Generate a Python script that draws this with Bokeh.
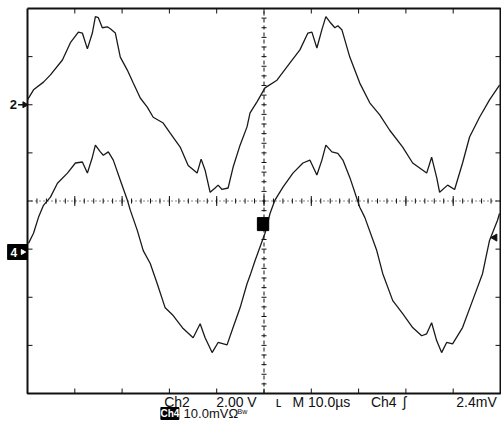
import numpy as np
from bokeh.plotting import figure
from bokeh.models import Range1d
from bokeh.embed import file_html
from bokeh.resources import INLINE
from bokeh.core.properties import value

ch2_time_us = [0.00, 1.27, 3.38, 4.85, 7.38, 9.07, 10.76, 11.60, 12.66, 13.71,
               14.35, 14.98, 15.82, 16.88, 17.51, 18.57, 19.62, 21.10, 22.36, 23.84,
               25.32, 26.58, 28.69, 30.17, 32.28, 33.97, 35.86, 36.71, 37.55, 38.61,
               39.66, 40.30, 41.14, 42.41, 43.46, 44.94, 46.41, 47.05, 48.52, 50.21,
               52.74, 55.49, 57.59, 59.28, 60.13, 61.18, 62.24, 63.08, 63.92, 64.98,
               65.61, 66.46, 68.14, 70.25, 72.36, 74.47, 76.58, 79.32, 81.43, 84.39,
               85.44, 86.50, 87.13, 88.82, 90.30, 91.98, 93.46, 95.57, 97.68, 99.79]
ch2_volts = [0.20, 0.62, 0.94, 1.24, 1.86, 2.58, 3.02, 2.98, 2.32, 2.98,
             3.66, 3.62, 3.20, 3.24, 3.16, 2.98, 1.98, 1.44, 0.90, 0.28,
             -0.10, -0.52, -0.76, -1.18, -1.76, -2.52, -2.84, -2.26, -2.72, -3.64,
             -3.46, -3.34, -3.52, -3.46, -2.60, -1.68, -0.92, -0.34, 0.12, 0.70,
             1.02, 1.74, 2.28, 2.98, 3.02, 2.36, 3.12, 3.66, 3.44, 3.20,
             3.28, 3.12, 1.98, 0.90, 0.08, -0.42, -1.06, -1.76, -2.42, -2.84,
             -2.18, -3.02, -3.64, -3.34, -3.52, -2.42, -1.34, -0.52, 0.20, 0.82]

ch4_time_us = [0.21, 1.27, 2.32, 3.38, 4.85, 6.33, 8.44, 10.13, 11.60, 12.66,
               13.71, 14.35, 15.40, 16.03, 17.09, 18.14, 19.62, 21.10, 21.73, 23.21,
               24.47, 25.95, 27.43, 29.11, 30.80, 32.91, 35.02, 36.50, 37.55, 39.03,
               40.30, 42.19, 43.46, 44.94, 46.41, 47.05, 48.10, 50.21, 51.27, 52.32,
               54.01, 56.12, 58.23, 59.70, 61.18, 62.24, 63.08, 64.35, 65.61, 66.68,
               68.14, 70.25, 71.31, 73.84, 75.11, 77.22, 79.32, 81.43, 83.33, 84.39,
               85.44, 86.50, 87.55, 88.61, 89.87, 91.98, 94.09, 96.20, 97.68, 99.37,
               99.79]
ch4_mv = [1.2, 3.3, 6.6, 9.1, 10.8, 13.7, 15.8, 17.9, 18.1, 15.8,
          19.1, 21.6, 20.2, 19.5, 20.2, 18.5, 14.3, 10.2, 8.1, 3.9,
          -0.3, -3.0, -7.2, -12.2, -13.8, -16.5, -18.4, -15.5, -18.4, -21.5,
          -19.4, -19.9, -16.3, -12.2, -7.2, -5.5, -2.4, 3.3, 7.4, 10.2,
          12.9, 15.8, 17.9, 18.5, 15.4, 18.5, 21.6, 20.2, 19.9, 18.5,
          14.9, 8.7, 6.6, -0.3, -5.1, -10.7, -13.4, -16.3, -18.0, -17.6,
          -15.3, -19.0, -21.5, -19.4, -19.7, -16.3, -10.7, -5.1, 1.8, 6.0,
          7.4]

ch2_scale_v = 2.00      # V/div
ch2_offset_div = 2.0    # ground marker position
ch4_scale_mv = 10.0     # mV/div
ch4_offset_div = -1.0
trig_level_mv = 2.4
time_per_div_us = 10.0
n_hdiv, n_vdiv = 10, 8

label_row1 = ["Ch2", "2.00 V", "\u029f", "M 10.0\u00b5s", "Ch4", "\u0283", "2.4mV"]
label_row1_t = [28.9, 39.9, 52.5, 56.0, 72.6, 79.4, 99.2]
label_row2 = ["Ch4", "10.0mV\u03a9", "Bw"]

# ---------------- geometry ----------------
W, H = 501, 422
left_px, right_px, top_px, bottom_px = 27, 500, 8, 393
t_span = n_hdiv * time_per_div_us
sx = (right_px - left_px) / t_span          # px per µs
sy = (bottom_px - top_px) / n_vdiv          # px per div
half_v = n_vdiv / 2

p = figure(width=W, height=H, output_backend="svg", toolbar_location=None,
           x_range=Range1d(-left_px / sx, (W - left_px) / sx),
           y_range=Range1d(half_v - (H - top_px) / sy, half_v + top_px / sy),
           x_axis_location=None, y_axis_location=None, min_border=0)
p.outline_line_color = None
p.xgrid.visible = False
p.ygrid.visible = False
p.background_fill_color = "white"
p.border_fill_color = "white"

ink = "#111111"
font = value("Liberation Sans")

# frame
p.line([0, t_span, t_span, 0, 0], [half_v, half_v, -half_v, -half_v, half_v],
       line_color=ink, line_width=2)

# ticks on edges (major)
tx = np.arange(1, n_hdiv) * time_per_div_us
tl = 5 / sy
p.segment(tx, [half_v] * len(tx), tx, [half_v - tl] * len(tx), line_color=ink, line_width=1)
p.segment(tx, [-half_v] * len(tx), tx, [-half_v + tl] * len(tx), line_color=ink, line_width=1)
vy = np.arange(-half_v + 1, half_v)
tlx = 5 / sx
p.segment([0] * len(vy), vy, [tlx] * len(vy), vy, line_color=ink, line_width=1)
p.segment([t_span] * len(vy), vy, [t_span - tlx] * len(vy), vy, line_color=ink, line_width=1)

# center cross
tc = t_span / 2
p.line([tc, tc], [-half_v, half_v], line_color=ink, line_dash="4 3", line_width=1)
p.line([0, t_span], [0, 0], line_color=ink, line_dash="1 3", line_width=1)
minor_t = np.arange(0, t_span + 1e-9, time_per_div_us / 5)
p.segment(minor_t, [-2.5 / sy] * len(minor_t), minor_t, [2.5 / sy] * len(minor_t),
          line_color=ink, line_width=1)
major_t = np.arange(0, t_span + 1e-9, time_per_div_us)
p.segment(major_t, [-5 / sy] * len(major_t), major_t, [5 / sy] * len(major_t),
          line_color=ink, line_width=1)
minor_v = np.arange(-half_v, half_v + 1e-9, 0.2)
p.segment([tc - 2.5 / sx] * len(minor_v), minor_v, [tc + 2.5 / sx] * len(minor_v), minor_v,
          line_color=ink, line_width=1)

# traces
ch2_y = ch2_offset_div + np.array(ch2_volts) / ch2_scale_v
ch4_y = ch4_offset_div + np.array(ch4_mv) / ch4_scale_mv
p.line(ch2_time_us, ch2_y, line_color="#1a1a1a", line_width=1.3)
p.line(ch4_time_us, ch4_y, line_color="#1a1a1a", line_width=1.3)

# channel ground markers
p.text(x=[-2.2], y=[ch2_offset_div], text=["2"], text_align="right", text_baseline="middle",
       text_font=font, text_font_size="13px", text_font_style="bold", text_color=ink)
p.segment([-2.0], [ch2_offset_div], [-0.2], [ch2_offset_div], line_color=ink, line_width=1.5)
p.scatter([-0.6], [ch2_offset_div], marker="triangle", angle=-np.pi / 2, size=6,
          fill_color=ink, line_color=ink)

p.rect(x=[-2.1], y=[ch4_offset_div - 0.06], width=4.2, height=15 / sy,
       fill_color="black", line_color="black")
p.text(x=[-2.9], y=[ch4_offset_div - 0.06], text=["4"], text_align="center", text_baseline="middle",
       text_font=font, text_font_size="12px", text_font_style="bold", text_color="white")
p.scatter([-1.0], [ch4_offset_div - 0.06], marker="triangle", angle=-np.pi / 2, size=5,
          fill_color="white", line_color="white")

# trigger position & level markers
p.rect(x=[tc - 0.2], y=[ch4_offset_div + 0.52], width=2.4, height=13 / sy,
       fill_color="black", line_color="black")
trig_y = ch4_offset_div + trig_level_mv / ch4_scale_mv
p.scatter([t_span - 1.2], [trig_y], marker="triangle", angle=np.pi / 2, size=7,
          fill_color=ink, line_color=ink)

# readout text
row1_y = -half_v - 8 / sy
aligns = ["left"] * 6 + ["right"]
for txt, tt, al in zip(label_row1, label_row1_t, aligns):
    p.text(x=[tt], y=[row1_y], text=[txt], text_align=al, text_baseline="middle",
           text_font=font, text_font_size="14px", text_color=ink)

row2_y = -half_v - 20 / sy
p.rect(x=[30.1], y=[row2_y], width=3.8, height=12 / sy, fill_color="black", line_color="black")
p.text(x=[30.1], y=[row2_y], text=[label_row2[0]], text_align="center", text_baseline="middle",
       text_font=font, text_font_size="10px", text_font_style="bold", text_color="white")
p.text(x=[33.0], y=[row2_y], text=[label_row2[1]], text_align="left", text_baseline="middle",
       text_font=font, text_font_size="13px", text_color=ink)
p.text(x=[44.4], y=[row2_y + 2 / sy], text=[label_row2[2]], text_align="left", text_baseline="middle",
       text_font=font, text_font_size="7px", text_color=ink)

open("out.html", "w").write(file_html(p, INLINE))
